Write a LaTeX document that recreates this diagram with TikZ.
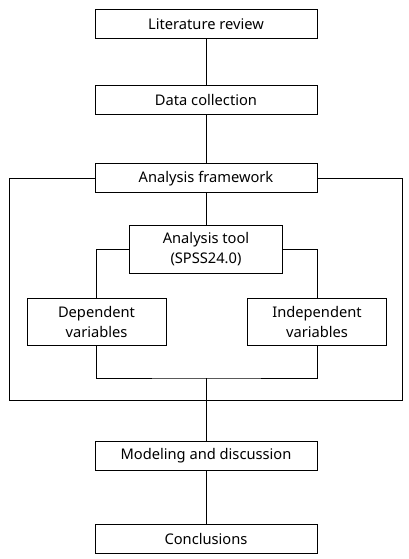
\documentclass[tikz,border=0pt]{standalone}
\usepackage{fontspec}
\setmainfont{Noto Sans}
\usepackage{tikz}

\begin{document}
\begin{tikzpicture}[x=0.75pt,y=-0.75pt,line width=0.75pt,
  stage/.style={draw,minimum width=166.5pt,minimum height=21.75pt,inner sep=0pt,font=\fontsize{11}{13}\selectfont},
  part/.style={draw,minimum height=35.25pt,inner sep=0pt,align=center,font=\fontsize{11}{15}\selectfont}]
\useasboundingbox (0,0) rectangle (409,559);
%main stages
\node[stage] (lit) at (206, 24.5) {Literature review};
\node[stage] (data) at (206, 100.5) {Data collection};
\node[stage,fill=white] (frame) at (206, 178.5) {Analysis framework};
\node[stage] (model) at (206, 455.5) {Modeling and discussion};
\node[stage] (concl) at (206, 538.5) {Conclusions};
%inner parts
\node[part,minimum width=114.75pt] (tool) at (206, 249.5) {Analysis tool\\(SPSS24.0)};
\node[part,minimum width=104.25pt] (dep) at (96.5, 321.5) {Dependent\\variables};
\node[part,minimum width=104.25pt] (indep) at (317, 321.5) {Independent\\variables};
\coordinate (join) at (206, 378);
\coordinate (tl) at (9, 178.5);
\coordinate (br) at (402, 400);
%stage links
\draw (lit) -- (data);
\draw (data) -- (frame);
\draw (model) -- (concl);
%framework outline
\draw (frame.west) -- (tl) |- (br) -- (br |- tl) -- (frame.east);
%inner links
\draw (frame) -- (tool);
\draw (tool.west) -| (dep.north);
\draw (tool.east) -| (indep.north);
\draw (dep.south) |- (join) -| (indep.south);
\draw (join) -- (model);
\end{tikzpicture}
\end{document}
